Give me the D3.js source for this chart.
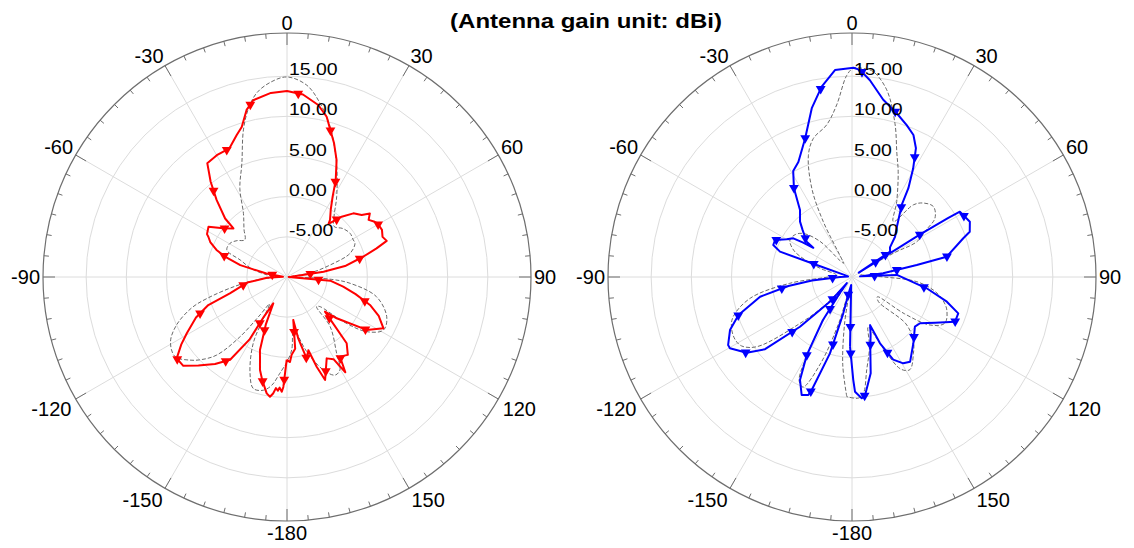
<!DOCTYPE html>
<html>
<head>
<meta charset="utf-8">
<script src="https://cdn.jsdelivr.net/npm/d3@7"></script>
<style>
  body { margin: 0; background: #fff; }
  text { font-family: "Liberation Sans", Arial, sans-serif; }
</style>
</head>
<body>
<svg id="chart" width="1134" height="548"></svg>
<script>
// ---- Radiation pattern data (angle in degrees, gain in dBi) ----
const angleLabels = ["0", "30", "60", "90", "120", "150", "-180", "-150", "-120", "-90", "-60", "-30"];
const ringValues = [-5, 0, 5, 10, 15];
const ringLabels = ["-5.00", "0.00", "5.00", "10.00", "15.00"];

// Left pattern: measured (solid red)
const redAngle = [-179.8, -178.1, -177.4, -176.2, -175.4, -174.3, -173.2, -171.9, -170.1, -166.5, -163.8, -159.7, -156, -152.5, -149.8, -149, -145.5, -140.4, -135, -130.6, -126.4, -122.5, -119.3, -114, -109.6, -106, -98, -92, -86, -80.5, -75.7, -72, -69, -65.5, -62.9, -61.8, -57.4, -52.6, -47.8, -46.6, -42.4, -38.7, -35, -29.95, -24.1, -19.5, -16.8, -13.6, -10.8, -5, 0, 5, 10.3, 13.9, 19.4, 23, 26.7, 29.6, 33, 37, 38, 42.2, 46.2, 50.3, 52.5, 55, 57.8, 59.3, 63.6, 67.2, 70.1, 72.3, 75.1, 79.3, 81.7, 86, 90, 94.9, 99.8, 104, 108.6, 113, 118, 123.6, 129.7, 132.4, 138, 142, 146.4, 148.5, 150.5, 154, 159.7, 161.7, 163.7, 166.5, 169.6, 171.7, 173.5, 176.6, 178, 180.2];
const redGain = [0.3, 3.7, 4.3, 3.8, 4.2, 3.9, 4.6, 5.05, 4.7, 3.2, 2.05, -0.3, -3.5, -6.3, -4.3, -0.9, 2.5, 4.06, 5.6, 7.0, 7.06, 5.6, 4.3, 2.4, 0.4, -2.6, -5.0, -7.5, -9.5, -7.4, -4.0, -2.0, -0.6, 0.5, 1.0, 1.3, 1.6, 0.0, -1.0, 0.6, 3.0, 5.2, 7.3, 7.5, 7.55, 8.75, 9.5, 11.4, 12.4, 13.0, 13.15, 12.8, 11.76, 10.55, 7.64, 5.8, 3.5, 1.5, 0.0, -1.1, -1.6, 0.13, 1.45, 2.08, 3.0, 2.4, 2.9, 3.1, 3.2, 2.9, 3.2, 1.7, -0.2, -2.65, -5.4, -9.5, -9.8, -4.6, -2.9, -1.2, 0.9, 2.4, 3.6, 1.9, -1.96, -3.6, 1.1, 2.3, 1.9, 3.9, 1.75, 1.27, 3.67, 1.76, -0.5, 0.4, -2.2, -4.6, -1.0, -0.3, 0.6, 0.3];

// Left pattern: simulated (dashed grey)
const leftSimAngle = [-180, -175.8, -172, -168.2, -163.2, -159, -153, -150, -147, -144.6, -141.8, -138, -134, -130.6, -125.4, -119.1, -113.5, -108, -105, -100, -95, -90, -84, -77, -70, -65.9, -59.4, -54, -48.6, -42, -34.4, -28, -21.7, -16.5, -12.9, -9.4, -5, 0, 5.9, 10.8, 16, 23.6, 31.75, 38, 43, 49, 55.3, 60.8, 63.6, 69.4, 74.4, 80, 86, 90, 93, 95.7, 102.4, 111.7, 118.8, 124.5, 128.4, 132, 135, 139, 146.9, 150.3, 153.9, 158.7, 165.2, 170.3, 173, 176.3, 180];
const leftSimGain = [0.6, 2.0, 3.6, 4.4, 4.5, 2.85, -0.74, -4.5, -6.0, -4.2, -0.5, 3.07, 4.8, 5.9, 7.1, 6.6, 5.0, 2.5, 0.3, -3.5, -6.5, -8.5, -7.5, -5.5, -3.8, -1.8, -1.76, -2.3, -3.0, -2.0, -0.4, 2.5, 5.2, 9.1, 11.5, 13.2, 14.3, 14.9, 14.0, 12.0, 9.46, 5.4, 1.75, -0.5, -1.4, -0.8, -0.45, -0.55, -0.55, -1.6, -4.4, -7.0, -9.5, -9.0, -4.5, -2.1, 1.4, 3.36, 3.7, 2.0, -1.05, -4.5, -4.8, -1.8, 1.3, 3.3, 3.6, 2.4, -0.4, -2.9, -3.5, -0.9, 0.6];

// Right pattern: measured (solid blue)
const blueAngle = [-178.4, -174, -168.5, -166.5, -163.9, -160.4, -159.7, -156.9, -153.2, -149.9, -146, -143, -140, -138.3, -133.7, -129.7, -125.7, -120.3, -118.8, -113.5, -108.5, -102.1, -98, -95, -90, -82, -75, -71.2, -70.6, -67.9, -64.3, -60, -56.6, -55, -52.9, -52.1, -46.4, -43.2, -37.8, -33.2, -29, -25, -18.7, -13.4, -9.05, -4.7, 0.4, 2.2, 5.2, 10, 15, 19.8, 23.4, 26.4, 29.4, 32.4, 34.6, 42.5, 46.9, 52, 56.3, 57.5, 58, 58.5, 58.8, 64.9, 69, 70.8, 77.9, 79.5, 83.3, 85.5, 87.4, 98.6, 104.6, 108.9, 113.5, 118.8, 124.2, 128.3, 137.2, 145.6, 149.3, 153.5, 157.1, 159.4, 162, 165.6, 169, 173.7, 175.4, 178.5, 179.3, 181.6];
const blueGain = [-1.3, -9, -8, -5.35, -0.1, 4.9, 5.66, 5.97, 4.36, 1.2, -3.5, -7.5, -9, -5.9, -1.04, 4.07, 6.15, 7.6, 7.6, 6.56, 4.9, 1.7, -2.0, -5, -8.5, -9.5, -9, -5.36, -0.5, 0.58, 0.63, -0.6, -1.25, -2.5, -3.96, -2.85, -1.5, -0.55, 0.56, 3.2, 5.1, 5.8, 8.2, 11.6, 14.0, 15.85, 16.05, 15.8, 14.6, 12.4, 11.2, 10.1, 9.26, 7.9, 5.5, 3.1, 0.9, -1.8, -2.66, -4.0, -4.3, -9, 0, 4, 5.7, 6.2, 5.7, 4.67, 2.05, -1.8, -6.1, -9, -4.4, -0.6, 2.2, 3.98, 3.98, 1.8, 0.24, -0.02, 1.24, 2.8, 2.5, 1.5, -1.04, -3.6, -2.5, -0.84, 2.2, 4.8, 5.15, 4.28, 2.8, -1.3];

// Right pattern: simulated (dashed grey)
const rightSimAngle = [-177.5, -174, -171, -168, -164, -160, -156, -153, -150, -146, -141, -136, -131.7, -126.2, -122, -118.3, -113, -108.5, -101.8, -95.8, -90, -82, -75, -70, -65.3, -59.2, -53, -48.1, -42, -36, -31, -29.6, -27.4, -24.4, -19.7, -15.6, -9.45, -5.1, -1.5, 0.4, 3, 5.9, 10.5, 15.6, 19.9, 23.7, 30.7, 36.8, 40.4, 44, 49.2, 54.7, 57.5, 61.4, 60.1, 62, 70, 85, 90, 94, 99.1, 104, 109.2, 116.5, 121.6, 125, 128, 133, 131, 136, 141.2, 148, 152, 155.5, 159.3, 162, 166, 171, 174.4, 177, 182.5];
const rightSimGain = [4.9, 1, -4, -8, -4, 1.5, 5.0, 4.5, 1, -4, -8.5, -5, -1.3, 4.7, 6.2, 6.5, 6.3, 5.6, 2.95, -2.2, -7, -8, -6, -3.8, -2.0, -1.0, -1.2, -1.9, -4, -7.5, -8, -7.4, -2.2, 2.1, 6.1, 7.9, 9.2, 11.5, 15.1, 16.0, 16.0, 15.7, 13.7, 9.87, 6.4, 4.3, 0.9, -1.4, 1.8, 2.8, 3.4, 2.65, 1, -0.8, -4.1, -9, -9, -8, -6, -2, 0.25, 1.6, 2.5, 2.9, 1.4, -2, -6, -5.5, -1.1, 1, 2.2, 3.6, 3.0, 0.43, -2.5, -3.5, -1, 1.7, 4.55, 5.1, 4.9];

// ---- Layout ----
const svg = d3.select("#chart");
const R = 244;                       // outer axis circle
const gain = d3.scaleLinear().domain([-10, 20]).range([0, 241]).clamp(true);
const toRad = d => d * Math.PI / 180;
const labelSize = 20, capH = 0.716 * labelSize;

svg.append("text")
  .attr("transform", "translate(586,28) scale(1.2,1)")
  .attr("text-anchor", "middle")
  .attr("font-size", 20).attr("font-weight", "bold").attr("fill", "#000")
  .text("(Antenna gain unit: dBi)");

function polarPlot(cx, cy, solid, sim) {
  const g = svg.append("g").attr("transform", `translate(${cx},${cy})`);

  // grid rings and spokes
  g.selectAll(".ring").data(ringValues).join("circle")
    .attr("r", d => gain(d)).attr("fill", "none")
    .attr("stroke", "#dcdcdc").attr("stroke-width", 1);
  g.selectAll(".spoke").data(d3.range(0, 360, 30)).join("line")
    .attr("x1", 0).attr("y1", 0)
    .attr("x2", d => R * Math.sin(toRad(d))).attr("y2", d => -R * Math.cos(toRad(d)))
    .attr("stroke", "#dcdcdc").attr("stroke-width", 1);

  // outer axis with ticks every 5 degrees
  g.append("circle").attr("r", R).attr("fill", "none")
    .attr("stroke", "#6e6e6e").attr("stroke-width", 1.2);
  g.selectAll(".tick").data(d3.range(0, 360, 5)).join("line")
    .attr("x1", d => R * Math.sin(toRad(d))).attr("y1", d => -R * Math.cos(toRad(d)))
    .attr("x2", d => (R - (d % 30 === 0 ? 12 : 5)) * Math.sin(toRad(d)))
    .attr("y2", d => -(R - (d % 30 === 0 ? 12 : 5)) * Math.cos(toRad(d)))
    .attr("stroke", "#6e6e6e").attr("stroke-width", 1);

  // angle labels: the box corner nearest the centre sits on the spoke, just outside the axis
  angleLabels.forEach((lab, i) => {
    const a = toRad(i * 30);
    const s = Math.sin(a), c = Math.cos(a);
    const d = R + (c < -0.1 ? 5 : 3);
    const px = d * s, py = -d * c;
    const anchor = s > 0.1 ? "start" : (s < -0.1 ? "end" : "middle");
    const base = c > 0.1 ? py : (c < -0.1 ? py + capH : py + capH / 2);
    g.append("text").attr("font-size", labelSize).attr("fill", "#000")
      .attr("text-anchor", anchor).attr("x", px).attr("y", base).text(lab);
  });

  const line = d3.lineRadial()
    .angle(d => toRad(d[0]))
    .radius(d => gain(d[1]));

  // simulated pattern
  g.append("path")
    .datum(d3.zip(sim.angle, sim.gain))
    .attr("d", line.curve(d3.curveCatmullRom.alpha(0.5)))
    .attr("fill", "none").attr("stroke", "#6a6a6a")
    .attr("stroke-width", 1).attr("stroke-dasharray", "4,2");

  // measured pattern
  const p = g.append("path")
    .datum(d3.zip(solid.angle, solid.gain))
    .attr("d", line.curve(d3.curveLinear))
    .attr("fill", "none").attr("stroke", solid.color)
    .attr("stroke-width", 2).attr("stroke-linejoin", "round");

  // triangle markers spaced evenly along the measured trace
  const len = p.node().getTotalLength();
  const marks = d3.range(20, len, solid.spacing).map(l => p.node().getPointAtLength(l));
  g.selectAll(".mk").data(marks).join("path")
    .attr("d", d3.symbol(d3.symbolTriangle, 42)())
    .attr("transform", d => `translate(${d.x},${d.y}) rotate(180)`)
    .attr("fill", solid.color);

  // ring labels
  ringLabels.forEach((lab, i) => {
    g.append("text")
      .attr("transform", `translate(2,${-gain(ringValues[i]) - 1}) scale(1.18,1)`)
      .attr("font-size", 16.5).attr("fill", "#000").text(lab);
  });
}

polarPlot(287, 277,
  { angle: redAngle, gain: redGain, color: "#ff0000", spacing: 52 },
  { angle: leftSimAngle, gain: leftSimGain });
polarPlot(852, 277,
  { angle: blueAngle, gain: blueGain, color: "#0000ff", spacing: 52 },
  { angle: rightSimAngle, gain: rightSimGain });
</script>
</body>
</html>
